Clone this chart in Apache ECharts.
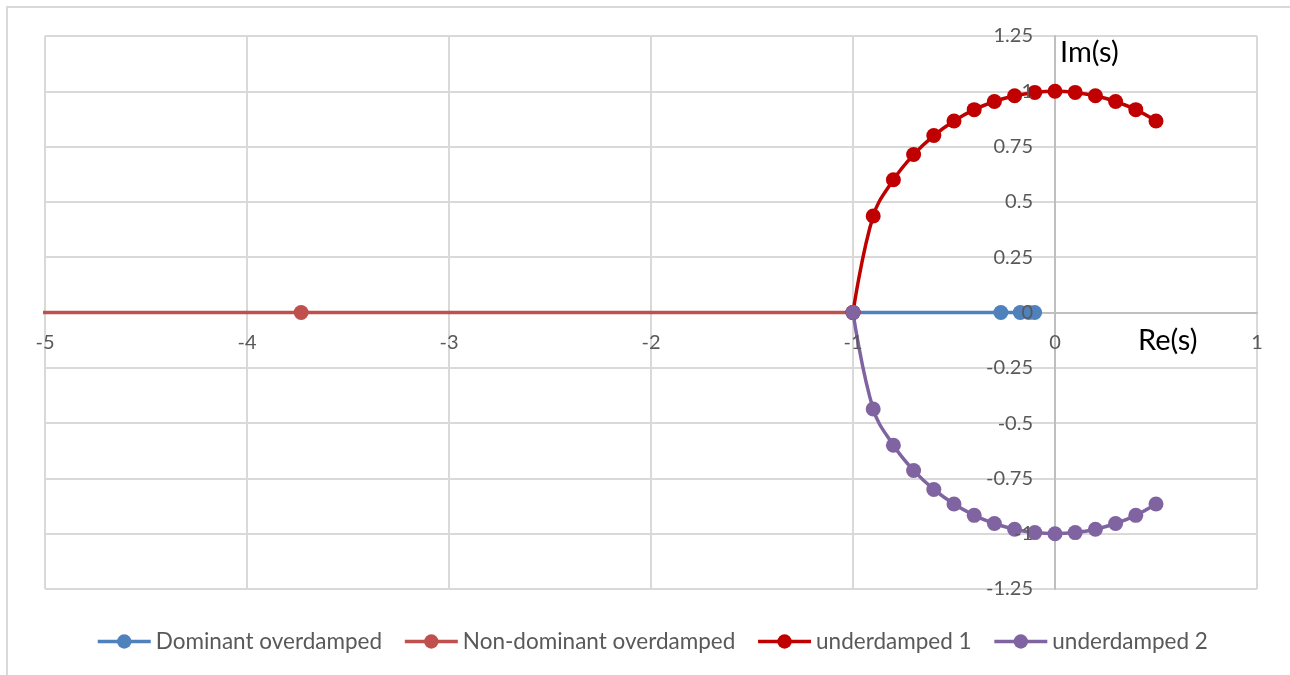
<!DOCTYPE html>
<html>
<head>
<meta charset="utf-8">
<title>Root locus</title>
<script src="https://cdn.jsdelivr.net/npm/echarts@6/dist/echarts.min.js"></script>
<style>
  html, body { margin: 0; padding: 0; background: #ffffff; }
  #chart { width: 1290px; height: 675px; }
</style>
</head>
<body>
<div id="chart"></div>
<script>
// Pole positions in the s-plane (real part, imaginary part)
const seriesNames = ['Dominant overdamped', 'Non-dominant overdamped', 'underdamped 1', 'underdamped 2'];

const reDominant = [-1, -0.268, -0.172, -0.13, -0.101];
const imDominant = [0, 0, 0, 0, 0];

const reNonDominant = [-1, -3.732, -5.828, -7.873, -9.899];
const imNonDominant = [0, 0, 0, 0, 0];

const reUnder = [-1, -0.9, -0.8, -0.7, -0.6, -0.5, -0.4, -0.3, -0.2, -0.1, 0, 0.1, 0.2, 0.3, 0.4, 0.5];
const imUnder1 = [0, 0.436, 0.6, 0.714, 0.8, 0.866, 0.917, 0.954, 0.98, 0.995, 1, 0.995, 0.98, 0.954, 0.917, 0.866];
const imUnder2 = [0, -0.436, -0.6, -0.714, -0.8, -0.866, -0.917, -0.954, -0.98, -0.995, -1, -0.995, -0.98, -0.954, -0.917, -0.866];

// Axis ranges
const RE_MIN = -5, RE_MAX = 1, RE_STEP = 1;
const IM_MIN = -1.25, IM_MAX = 1.25, IM_STEP = 0.25;

const colors = ['#4F81BD', '#C0504D', '#C00000', '#8064A2'];
const FONT = 'Lato, "Liberation Sans", sans-serif';

// Plot box in pixels; the tick labels sit next to the axes crossing at the origin
const GRID = { left: 45, right: 33, top: 36, bottom: 86 };
const CHART_W = 1290, CHART_H = 675;
const xZeroPx = GRID.left + (CHART_W - GRID.left - GRID.right) * (0 - RE_MIN) / (RE_MAX - RE_MIN);
const yZeroPx = GRID.top + (CHART_H - GRID.top - GRID.bottom) * (IM_MAX - 0) / (IM_MAX - IM_MIN);

function pairs(xs, ys) {
  return xs.map((x, i) => [x, ys[i]]);
}

function lineSeries(name, data, color, smooth) {
  return {
    name: name,
    type: 'line',
    data: data,
    smooth: smooth,
    symbol: 'circle',
    symbolSize: 15,
    clip: true,
    lineStyle: { color: color, width: 3.5 },
    itemStyle: { color: color },
    emphasis: { disabled: true },
    animation: false
  };
}

const labelStyle = { color: '#595959', fontSize: 20, fontFamily: FONT };

const chart = echarts.init(document.getElementById('chart'), null, { renderer: 'canvas' });

chart.setOption({
  animation: false,
  backgroundColor: '#ffffff',
  textStyle: { fontFamily: FONT },
  grid: Object.assign({ containLabel: false, outerBoundsMode: 'none' }, GRID),
  xAxis: [
    {
      // gridlines and the zero line, beneath the curves
      type: 'value', min: RE_MIN, max: RE_MAX, interval: RE_STEP, z: 0,
      axisLine: { show: true, onZero: true, lineStyle: { color: '#bfbfbf', width: 2 } },
      axisTick: { show: false },
      axisLabel: { show: false },
      splitLine: { show: true, lineStyle: { color: '#d9d9d9', width: 2 } }
    },
    {
      // tick labels, drawn above the curves, hanging below the horizontal zero line
      type: 'value', min: RE_MIN, max: RE_MAX, interval: RE_STEP, z: 5,
      position: 'bottom',
      axisLine: { show: false, onZero: false },
      axisTick: { show: false },
      splitLine: { show: false },
      axisLabel: Object.assign({ margin: 20 - ((CHART_H - GRID.bottom) - yZeroPx) }, labelStyle)
    }
  ],
  yAxis: [
    {
      type: 'value', min: IM_MIN, max: IM_MAX, interval: IM_STEP, z: 0,
      axisLine: { show: true, onZero: true, lineStyle: { color: '#bfbfbf', width: 2 } },
      axisTick: { show: false },
      axisLabel: { show: false },
      splitLine: { show: true, lineStyle: { color: '#d9d9d9', width: 2 } }
    },
    {
      // tick labels to the left of the vertical zero line
      type: 'value', min: IM_MIN, max: IM_MAX, interval: IM_STEP, z: 5,
      position: 'left',
      axisLine: { show: false, onZero: false },
      axisTick: { show: false },
      splitLine: { show: false },
      axisLabel: Object.assign({ margin: 22 - (xZeroPx - GRID.left) }, labelStyle)
    }
  ],
  legend: {
    data: seriesNames,
    left: 91,
    top: 625,
    itemWidth: 53,
    itemHeight: 18,
    itemGap: 21,
    lineStyle: { width: 3.5 },
    textStyle: { color: '#595959', fontSize: 22.5, fontFamily: FONT }
  },
  graphic: [
    {
      type: 'rect',
      z: -10,
      silent: true,
      shape: { x: 7, y: 7, width: 1400, height: 800 },
      style: { fill: 'none', stroke: '#d9d9d9', lineWidth: 2 }
    },
    {
      type: 'text',
      left: 1060,
      top: 38,
      silent: true,
      style: { text: 'Im(s)', fill: '#000000', fontSize: 29, fontFamily: FONT }
    },
    {
      type: 'text',
      left: 1138,
      top: 326,
      silent: true,
      style: { text: 'Re(s)', fill: '#000000', fontSize: 29, fontFamily: FONT }
    }
  ],
  series: [
    lineSeries(seriesNames[0], pairs(reDominant, imDominant), colors[0], false),
    lineSeries(seriesNames[1], pairs(reNonDominant, imNonDominant), colors[1], false),
    lineSeries(seriesNames[2], pairs(reUnder, imUnder1), colors[2], 0.4),
    lineSeries(seriesNames[3], pairs(reUnder, imUnder2), colors[3], 0.4)
  ]
});
</script>
</body>
</html>
